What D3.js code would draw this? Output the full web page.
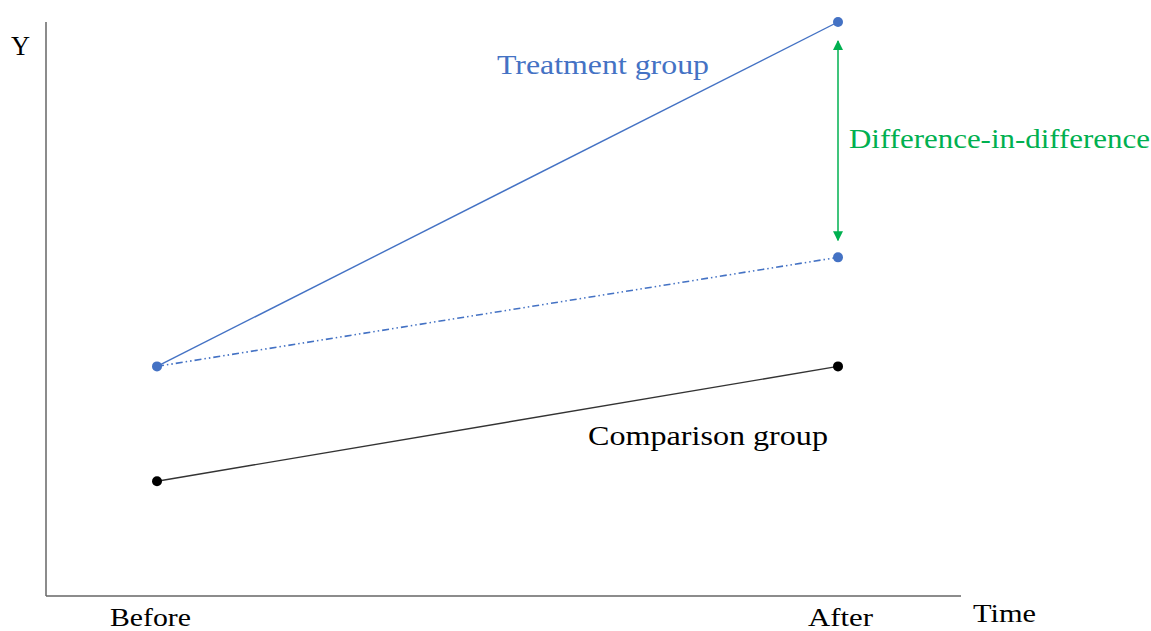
<!DOCTYPE html>
<html><head><meta charset="utf-8">
<script src="https://cdn.jsdelivr.net/npm/d3@7"></script>
<style>body{margin:0;background:#fff}svg{display:block}</style>
</head><body>
<svg id="c" width="1151" height="631"></svg>
<script>
const periods = ["Before", "After"];
const treatment = [4, 10];
const counterfactual = [4, 5.9];
const comparison = [2, 4];
const xLabels = ["Before", "After"];
const yDomain = [0, 10];

const svg = d3.select("#c");
const FONT = "'Liberation Serif', 'DejaVu Serif', serif";
const blue = "#4472c4", green = "#00b050";

const x = d3.scalePoint().domain(periods).range([157, 838]);
const y = d3.scaleLinear().domain(yDomain).range([596, 22]);

// axes
svg.append("line").attr("x1", 46).attr("x2", 46).attr("y1", 22).attr("y2", 596)
  .attr("stroke", "#666").attr("stroke-width", 1.5);
svg.append("line").attr("x1", 46).attr("x2", 961).attr("y1", 596).attr("y2", 596)
  .attr("stroke", "#666").attr("stroke-width", 1.5);

const line = d3.line().x((d, i) => x(periods[i])).y(d => y(d));

svg.append("path").datum(counterfactual).attr("d", line).attr("fill", "none")
  .attr("stroke", blue).attr("stroke-width", 1.6).attr("stroke-dasharray", "7,3,1.5,3,1.5,3");
svg.append("path").datum(treatment).attr("d", line).attr("fill", "none")
  .attr("stroke", blue).attr("stroke-width", 1.4);
svg.append("path").datum(comparison).attr("d", line).attr("fill", "none")
  .attr("stroke", "#333").attr("stroke-width", 1.4);

function dots(arr, idx, col) {
  svg.selectAll(null).data(idx).enter().append("circle")
    .attr("cx", i => x(periods[i])).attr("cy", i => y(arr[i])).attr("r", 5).attr("fill", col);
}
dots(treatment, [0, 1], blue);
dots(counterfactual, [1], blue);
dots(comparison, [0, 1], "#000");

// arrow
const defs = svg.append("defs");
defs.append("marker").attr("id", "ah").attr("viewBox", "0 0 10 10").attr("refX", 9).attr("refY", 5)
  .attr("markerWidth", 10).attr("markerHeight", 10).attr("markerUnits", "userSpaceOnUse")
  .attr("orient", "auto-start-reverse")
  .append("path").attr("d", "M0,0 L10,5 L0,10 z").attr("fill", green);
svg.append("line").attr("x1", x("After")).attr("x2", x("After"))
  .attr("y1", y(treatment[1]) + 19).attr("y2", y(counterfactual[1]) - 17)
  .attr("stroke", green).attr("stroke-width", 1.5)
  .attr("marker-start", "url(#ah)").attr("marker-end", "url(#ah)");

function txt(s, tx, ty, size, col, w) {
  const t = svg.append("text").attr("x", tx).attr("y", ty).text(s)
    .attr("font-family", FONT).attr("font-size", size).attr("fill", col);
  if (w) t.attr("textLength", w).attr("lengthAdjust", "spacingAndGlyphs");
  return t;
}
txt("Y", 11, 55, 28, "#000", 19);
txt("Treatment group", 497, 74, 28, blue, 212);
txt("Difference-in-difference", 849, 148, 27, green, 301);
txt("Comparison group", 588, 445, 28, "#000", 240);
txt(xLabels[0], x("Before") - 47, 626, 26, "#000", 81);
txt(xLabels[1], x("After") - 30, 626, 26, "#000", 65);
txt("Time", 973, 622, 26, "#000", 63);
</script>
</body></html>
